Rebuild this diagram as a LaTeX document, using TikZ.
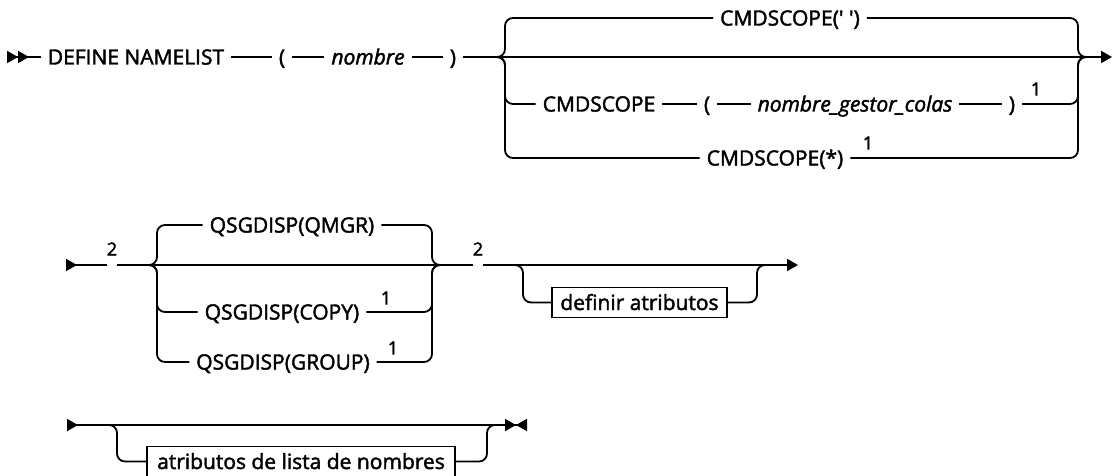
\documentclass[tikz,border=0pt]{standalone}
\usepackage{fontspec}
\usepackage{tikz}
\usetikzlibrary{arrows.meta}
\newfontfamily\railfont{Open Sans}[FakeBold=2]

\tikzset{
  rail/.style={line width=1.8pt},
  kw/.style={font=\railfont\fontsize{21pt}{24pt}\selectfont, inner xsep=7pt, inner ysep=0pt, outer sep=0pt, text height=15pt, text depth=0pt},
  var/.style={kw, font=\railfont\itshape\fontsize{21pt}{24pt}\selectfont},
  note/.style={font=\railfont\fontsize{18pt}{20pt}\selectfont, inner sep=0pt},
  attrbox/.style={draw, line width=1.8pt, font=\railfont\fontsize{21pt}{24pt}\selectfont, inner ysep=0pt, text height=15pt, text depth=0pt, minimum height=30pt},
  turn/.style={rail, rounded corners=8pt}
}

\begin{document}
\begin{tikzpicture}[x=1pt, y=-1pt, >={Triangle[length=11pt,width=12pt]}]
				\useasboundingbox (0,0) rectangle (1113,476);

				% DEFINE NAMELIST line
				\coordinate (s1) at (7,57);
				\node[kw] (defn) at (136,57) {DEFINE NAMELIST};
				\node[kw] (lp1) at (282,57) {(};
				\node[var] (nom) at (368,57) {nombre};
				\node[kw] (rp1) at (453,57) {)};
				\coordinate (bl1) at (505,57);
				\coordinate (br1) at (1078,57);
				\coordinate (e1) at (1112,57);

				\node[kw] (cs1) at (790,18) {CMDSCOPE(' ')};
				\node[kw] (cs2) at (599,104) {CMDSCOPE};
				\node[kw] (lp2) at (707,104) {(};
				\node[var] (qmn) at (855,104) {nombre\_gestor\_colas};
				\node[kw] (rp2) at (1012,104) {)};
				\node[note] (f1a) at (1036,89) {1};
				\node[kw] (cs3) at (775,158) {CMDSCOPE(*)};
				\node[note] (f1b) at (868,143) {1};

				\draw[rail, >>-] (s1) -- (defn);
				\draw[rail] (defn) -- (lp1);
				\draw[rail] (lp1) -- (nom);
				\draw[rail] (nom) -- (rp1);
				\draw[rail, ->] (rp1) -- (e1);

				\draw[turn] ([xshift=-10pt]bl1) -| (bl1 |- cs1) -- (cs1);
				\draw[turn] (cs1) -| (br1) -- ([xshift=10pt]br1);
				\draw[turn] ([xshift=-10pt]bl1) -| (bl1 |- cs2) -- (cs2);
				\draw[rail] (cs2) -- (lp2);
				\draw[rail] (lp2) -- (qmn);
				\draw[rail] (qmn) -- (rp2);
				\draw[turn] (rp2) -| (br1) -- ([xshift=10pt]br1);
				\draw[turn] ([xshift=-10pt]bl1) -| (bl1 |- cs3) -- (cs3);
				\draw[turn] (cs3) -| (br1) -- ([xshift=10pt]br1);

				% QSGDISP line
				\coordinate (s2) at (66,265);
				\node[note] (r2a) at (112,249) {2};
				\coordinate (bl2) at (157,265);
				\coordinate (br2) at (432,265);
				\node[kw] (qm) at (292,225) {QSGDISP(QMGR)};
				\node[kw] (qc) at (282,312) {QSGDISP(COPY)};
				\node[note] (f1c) at (386,298) {1};
				\node[kw] (qg) at (283,362) {QSGDISP(GROUP)};
				\node[note] (f1d) at (393,348) {1};
				\node[note] (r2b) at (478,249) {2};
				\coordinate (j2) at (523,265);
				\coordinate (k2) at (757,265);
				\node[attrbox, minimum width=175pt] (defat) at (639.5,302.5) {definir atributos};
				\coordinate (e2) at (798,265);

				\draw[rail, >-] (s2) -- (r2a.south west |- s2);
				\draw[rail] (r2a.south east |- s2) -- (r2b.south west |- s2);
				\draw[rail, ->] (r2b.south east |- s2) -- (e2);

				\draw[turn] ([xshift=-10pt]bl2) -| (bl2 |- qm) -- (qm);
				\draw[turn] (qm) -| (br2) -- ([xshift=10pt]br2);
				\draw[turn] ([xshift=-10pt]bl2) -| (bl2 |- qc) -- (qc);
				\draw[turn] (qc) -| (br2) -- ([xshift=10pt]br2);
				\draw[turn] ([xshift=-10pt]bl2) -| (bl2 |- qg) -- (qg);
				\draw[turn] (qg) -| (br2) -- ([xshift=10pt]br2);

				\draw[turn] ([xshift=-10pt]j2) -| (j2 |- defat) -- (defat);
				\draw[turn] (defat) -| (k2) -- ([xshift=10pt]k2);

				% attribute line
				\coordinate (s3) at (67,425);
				\coordinate (j3) at (117,425);
				\coordinate (k3) at (487,425);
				\coordinate (e3) at (527,425);
				\node[attrbox, minimum width=308pt] (nlat) at (301,461.5) {atributos de lista de nombres};

				\draw[rail, >-><] (s3) -- (e3);
				\draw[turn] ([xshift=-10pt]j3) -| (j3 |- nlat) -- (nlat);
				\draw[turn] (nlat) -| (k3) -- ([xshift=10pt]k3);
			\end{tikzpicture}
\end{document}
